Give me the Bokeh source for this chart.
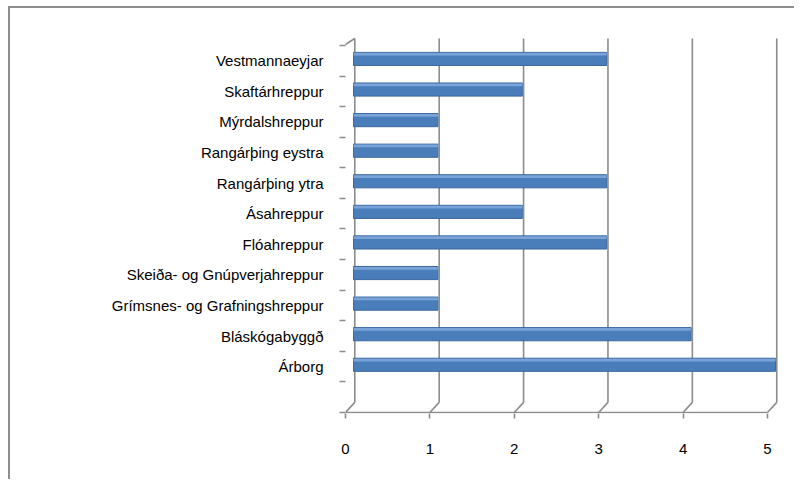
from bokeh.plotting import figure
from bokeh.models import Range1d, FixedTicker, ColumnDataSource
from bokeh.embed import file_html
from bokeh.resources import INLINE

# ---- data (top to bottom as shown) ----
categories = ["Vestmannaeyjar", "Skaftárhreppur", "Mýrdalshreppur", "Rangárþing eystra",
              "Rangárþing ytra", "Ásahreppur", "Flóahreppur", "Skeiða- og Gnúpverjahreppur",
              "Grímsnes- og Grafningshreppur", "Bláskógabyggð", "Árborg"]
values = [3, 2, 1, 1, 3, 2, 3, 1, 1, 4, 5]
x_ticks = [0, 1, 2, 3, 4, 5]

# ---- styling constants ----
FONT = "Liberation Sans"
FSIZE = "15px"
GRID = "#8c8c8c"
BORDER = "#8e8e8e"
BAR = "#4a7ebb"
BAR_EDGE = "#3a679f"
BAR_TOP = "#7aa3d8"
DEPTH_X = 0.11      # 3-D depth of the back wall, in x units
DEPTH_TOP = 0.23    # in slot units
DEPTH_BOT = 0.33
BAR_SHIFT_X = 0.095
BAR_LIFT = 0.06
BAR_H = 0.43
XR = (0, 5.273)
YR = (-0.533, 11.794)

n = len(categories)
pos = [n - i for i in range(n)]          # Vestmannaeyjar at top, empty slot at 0
slot_edges = [k - 0.5 for k in range(n + 2)]
xmax = max(x_ticks)

p = figure(width=794, height=479, output_backend="svg", toolbar_location=None,
           x_range=Range1d(*XR), y_range=Range1d(*YR),
           min_border_left=345, min_border_right=4, min_border_top=36, min_border_bottom=66)
p.extra_x_ranges = {"bars": Range1d(XR[0] - BAR_SHIFT_X, XR[1] - BAR_SHIFT_X)}
p.extra_y_ranges = {"bars": Range1d(YR[0] - BAR_LIFT, YR[1] - BAR_LIFT)}
p.outline_line_color = None
p.background_fill_color = "white"
p.border_fill_color = None
p.xgrid.visible = False
p.ygrid.visible = False

# chart-area border (top and left edges visible), drawn behind the transparent canvas border
p.styles = {
    "background-color": "white",
    "background-image": f"linear-gradient({BORDER}, {BORDER}), linear-gradient({BORDER}, {BORDER})",
    "background-size": "2px 100%, 100% 2px",
    "background-position": "8px 6px, 8px 6px",
    "background-repeat": "no-repeat",
}

# ---- back-wall gridlines with 3-D connectors to the floor ----
top_y = n + 0.5 + DEPTH_TOP
bot_y = -0.5 + DEPTH_BOT
p.segment(x0=[t + DEPTH_X for t in x_ticks], y0=[bot_y] * len(x_ticks),
          x1=[t + DEPTH_X for t in x_ticks], y1=[top_y] * len(x_ticks),
          line_color=GRID, line_width=1.6)
p.segment(x0=[t + DEPTH_X for t in x_ticks], y0=[bot_y] * len(x_ticks),
          x1=x_ticks, y1=[-0.5] * len(x_ticks), line_color=GRID, line_width=1.6)
# floor front edge
p.segment(x0=[0], y0=[-0.5], x1=[xmax], y1=[-0.5], line_color=GRID, line_width=1.6)
# front left axis and top connector
p.segment(x0=[-0.02], y0=[-0.5], x1=[-0.02], y1=[n + 0.5], line_color=GRID, line_width=1.6)
p.segment(x0=[-0.02], y0=[n + 0.5], x1=[DEPTH_X], y1=[top_y], line_color=GRID, line_width=1.6)

# ---- bars ----
src = ColumnDataSource(dict(y=pos, v=values,
                            ytop=[y + BAR_H / 2 - 0.06 for y in pos]))
p.hbar(y="y", left=0, right="v", height=BAR_H, source=src,
       fill_color=BAR, line_color=BAR_EDGE, line_width=1,
       x_range_name="bars", y_range_name="bars")
p.hbar(y="ytop", left=0, right="v", height=0.09, source=src,
       fill_color=BAR_TOP, line_color=None,
       x_range_name="bars", y_range_name="bars")

# ---- axes ----
xa = p.xaxis[0]
xa.ticker = FixedTicker(ticks=x_ticks)
xa.axis_line_color = None
xa.major_tick_line_color = GRID
xa.major_tick_line_width = 1.6
xa.major_tick_out = 5
xa.major_tick_in = 0
xa.minor_tick_line_color = None
xa.major_label_standoff = 25
xa.major_label_text_font = FONT
xa.major_label_text_font_size = FSIZE
xa.major_label_text_color = "black"

ya = p.yaxis[0]
ya.ticker = FixedTicker(ticks=pos, minor_ticks=slot_edges)
ya.major_label_overrides = {y: c for y, c in zip(pos, categories)}
ya.axis_line_color = None
ya.major_tick_line_color = None
ya.major_tick_out = 0
ya.major_tick_in = 0
ya.minor_tick_line_color = GRID
ya.minor_tick_line_width = 1.6
ya.minor_tick_out = 6
ya.minor_tick_in = 0
ya.major_label_standoff = 16
ya.major_label_text_font = FONT
ya.major_label_text_font_size = FSIZE
ya.major_label_text_color = "black"

open("out.html", "w").write(file_html(p, INLINE))
